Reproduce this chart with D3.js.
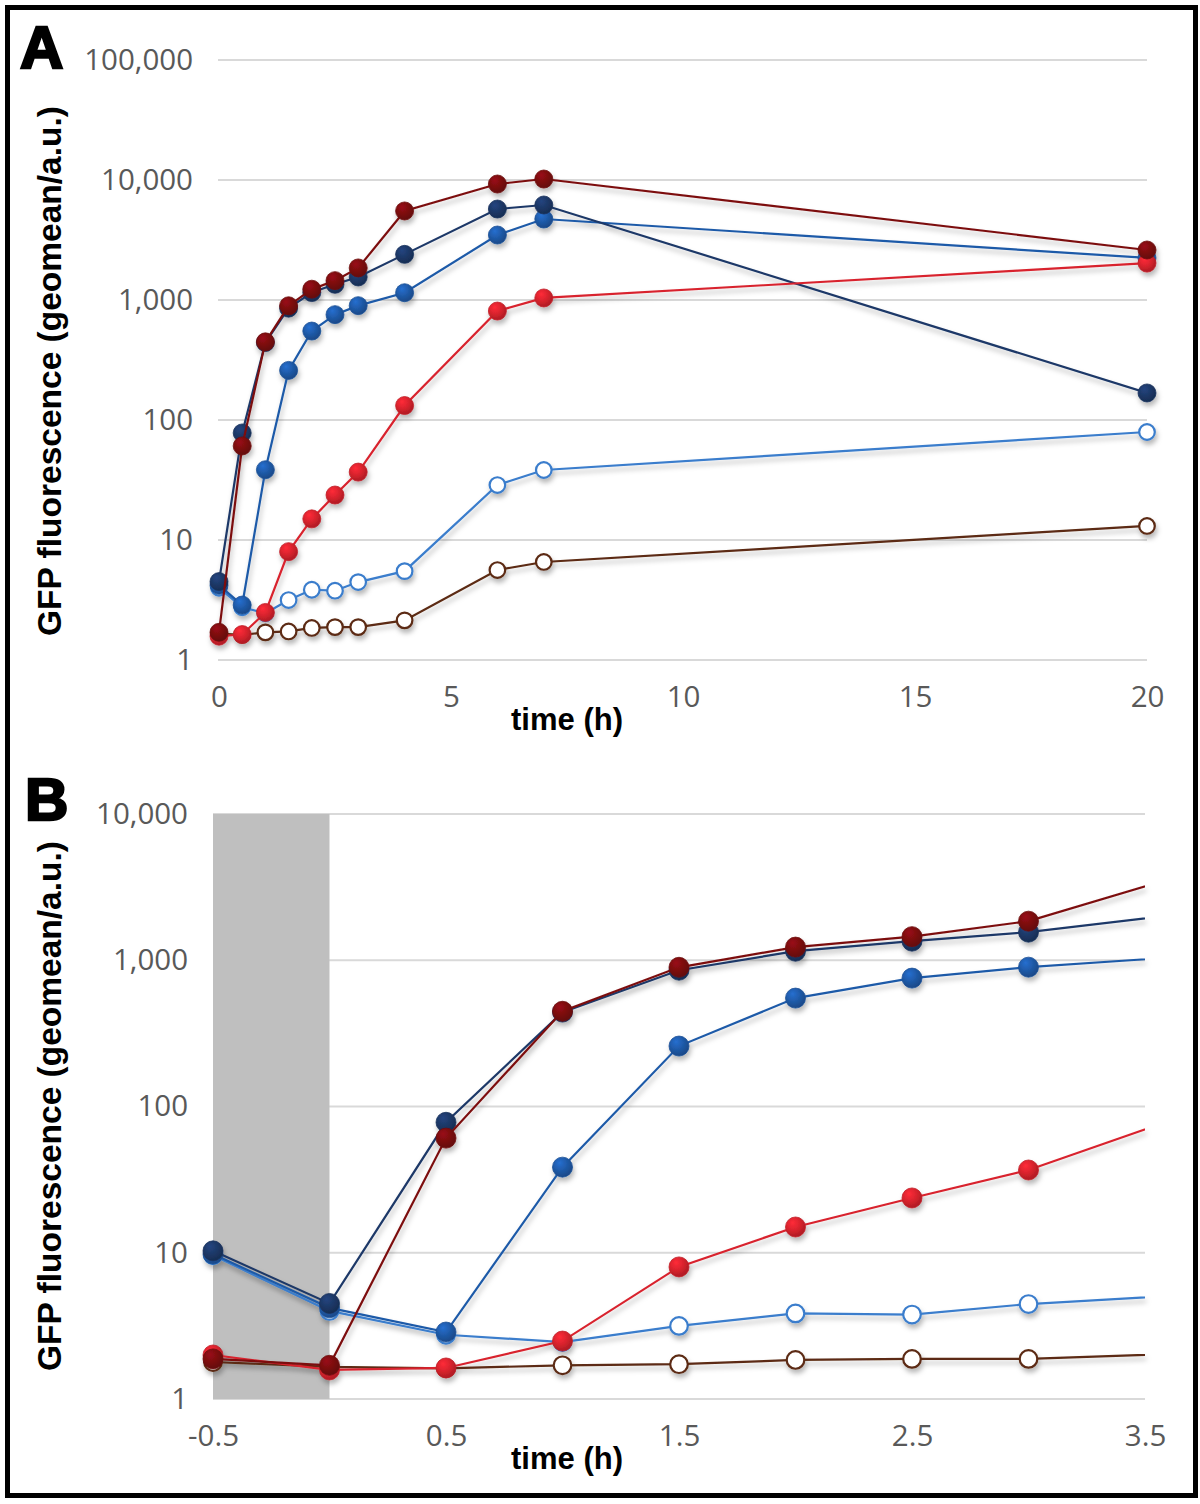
<!DOCTYPE html>
<html>
<head>
<meta charset="utf-8">
<script src="https://cdn.jsdelivr.net/npm/d3@7"></script>
<style>
  html, body { margin: 0; padding: 0; background: #fff; }
  svg { display: block; }
</style>
</head>
<body>
<svg id="chart" width="1200" height="1504"></svg>
<script>
// ---------------- DATA ----------------
const times      = [-0.5, 0, 0.5, 1, 1.5, 2, 2.5, 3, 4, 6, 7, 20];
const darkRed    = [1.88, 1.70, 60.8, 448, 895, 1230, 1450, 1850, 5520, 9260, 10190, 2610];
const navy       = [10.3, 4.5, 78, 442, 855, 1153, 1351, 1556, 2400, 5730, 6190, 168];
const medBlue    = [9.8, 4.2, 2.87, 38.5, 259, 551, 755, 897, 1150, 3480, 4730, 2240];
const red        = [2.0, 1.58, 1.63, 2.49, 8.0, 15.0, 23.7, 36.8, 132, 809, 1040, 2030];
const lightBlue  = [9.6, 4.0, 2.75, 2.45, 3.16, 3.85, 3.78, 4.46, 5.5, 28.7, 38.3, 79.4];
const brown      = [1.79, 1.66, 1.62, 1.70, 1.73, 1.85, 1.88, 1.88, 2.14, 5.62, 6.56, 13.1];

const yTicksA = [1, 10, 100, 1000, 10000, 100000];
const xTicksA = [0, 5, 10, 15, 20];
const yTicksB = [1, 10, 100, 1000, 10000];
const xTicksB = [-0.5, 0.5, 1.5, 2.5, 3.5];
const shadedRangeB = [-0.5, 0];

const seriesList = [
  { name: "lightBlue", values: lightBlue, color: "#3a7dcc", open: true },
  { name: "brown",     values: brown,     color: "#5b2a12", open: true },
  { name: "medBlue",   values: medBlue,   color: "#1f5aa8", open: false },
  { name: "navy",      values: navy,      color: "#1d3867", open: false },
  { name: "red",       values: red,       color: "#d8232d", open: false },
  { name: "darkRed",   values: darkRed,   color: "#7c0d10", open: false }
];

// ---------------- SETUP ----------------
const svg = d3.select("#chart");
svg.append("rect").attr("width", 1200).attr("height", 1504).attr("fill", "#fff");

const defs = svg.append("defs");
const shadow = defs.append("filter").attr("id", "shadow")
  .attr("x", "-20%").attr("y", "-20%").attr("width", "140%").attr("height", "140%");
shadow.append("feDropShadow").attr("dx", 1.5).attr("dy", 4).attr("stdDeviation", 2.5)
  .attr("flood-color", "#000").attr("flood-opacity", 0.28);

seriesList.forEach(s => {
  const g = defs.append("radialGradient").attr("id", "grad-" + s.name)
    .attr("cx", "40%").attr("cy", "35%").attr("r", "65%").attr("fx", "35%").attr("fy", "28%");
  const c = d3.color(s.color);
  g.append("stop").attr("offset", "0%").attr("stop-color", c.brighter(0.6));
  g.append("stop").attr("offset", "55%").attr("stop-color", s.color);
  g.append("stop").attr("offset", "100%").attr("stop-color", c.darker(0.6));
});

const data = seriesList.map(s => ({
  ...s,
  points: times.map((t, i) => ({ t, v: s.values[i] }))
}));

function drawPanel(cfg) {
  const x = d3.scaleLinear().domain(cfg.xDomain).range(cfg.xRange);
  const y = d3.scaleLog().domain(cfg.yDomain).range(cfg.yRange);
  const g = svg.append("g");

  // gridlines
  g.append("g").selectAll("line").data(cfg.yTicks).join("line")
    .attr("x1", cfg.gridX[0]).attr("x2", cfg.gridX[1])
    .attr("y1", d => y(d)).attr("y2", d => y(d))
    .attr("stroke", "#d9d9d9").attr("stroke-width", 2);

  // shaded region
  if (cfg.shade) {
    g.append("rect")
      .attr("x", x(cfg.shade[0])).attr("width", x(cfg.shade[1]) - x(cfg.shade[0]))
      .attr("y", y(cfg.yDomain[1])).attr("height", y(cfg.yDomain[0]) - y(cfg.yDomain[1]))
      .attr("fill", "#bfbfbf");
  }

  // axes
  const yAxis = d3.axisLeft(y).tickValues(cfg.yTicks).tickFormat(d3.format(","))
    .tickSize(0).tickPadding(cfg.yPad);
  const ya = g.append("g").attr("transform", `translate(${cfg.xRange[0]},0)`).call(yAxis);
  const xAxis = d3.axisBottom(x).tickValues(cfg.xTicks).tickFormat(cfg.xFormat)
    .tickSize(0).tickPadding(cfg.xPad);
  const xa = g.append("g").attr("transform", `translate(0,${cfg.yRange[0]})`).call(xAxis);
  [ya, xa].forEach(a => {
    a.select(".domain").remove();
    a.selectAll("text").attr("font-family", "'Open Sans', sans-serif")
      .attr("font-size", 29.5).attr("fill", "#595959");
  });

  const lineClipId = "lclip-" + cfg.id;
  defs.append("clipPath").attr("id", lineClipId).append("rect")
    .attr("x", cfg.xRange[0]).attr("y", cfg.yRange[1] - 15)
    .attr("width", cfg.xRange[1] - cfg.xRange[0])
    .attr("height", cfg.yRange[0] - cfg.yRange[1] + 30);

  const plot = g.append("g").attr("filter", "url(#shadow)");
  const line = d3.line().x(d => x(d.t)).y(d => y(d.v));

  data.forEach(s => {
    const pts = s.points.filter(p => p.t >= cfg.xDomain[0]);
    const sg = plot.append("g");
    sg.append("path").datum(pts)
      .attr("clip-path", `url(#${lineClipId})`)
      .attr("d", line).attr("fill", "none")
      .attr("stroke", s.color).attr("stroke-width", 2.2);
    sg.selectAll("circle").data(pts.filter(p => p.t <= cfg.xDomain[1])).join("circle")
      .attr("cx", d => x(d.t)).attr("cy", d => y(d.v))
      .attr("r", s.open ? cfg.r - 1.2 : cfg.r)
      .attr("fill", s.open ? "#fff" : `url(#grad-${s.name})`)
      .attr("stroke", s.open ? s.color : d3.color(s.color).darker(0.3))
      .attr("stroke-width", s.open ? 2.2 : 0.8);
  });

  // titles
  g.append("text").attr("x", cfg.xTitle[0]).attr("y", cfg.xTitle[1])
    .attr("text-anchor", "middle").attr("font-family", "'Liberation Sans', Arial, sans-serif")
    .attr("font-weight", "bold").attr("font-size", 31).attr("fill", "#000")
    .text("time (h)");
  g.append("text")
    .attr("transform", `translate(${cfg.yTitle[0]},${cfg.yTitle[1]}) rotate(-90)`)
    .attr("text-anchor", "middle").attr("font-family", "'Liberation Sans', Arial, sans-serif")
    .attr("font-weight", "bold").attr("font-size", 33.5).attr("fill", "#000")
    .text("GFP fluorescence (geomean/a.u.)");
  g.append("text").attr("x", cfg.letter[0]).attr("y", cfg.letter[1])
    .attr("font-family", "'Liberation Sans', Arial, sans-serif")
    .attr("font-weight", "900").attr("font-size", 60).attr("fill", "#000")
    .attr("stroke", "#000").attr("stroke-width", 2.5)
    .text(cfg.label);
}

drawPanel({
  id: "A", label: "A", letter: [20, 68],
  xDomain: [0, 20], xRange: [219, 1147], gridX: [218, 1147],
  yDomain: [1, 100000], yRange: [660, 60],
  yTicks: yTicksA, xTicks: xTicksA, xFormat: d3.format("d"),
  yPad: 26, xPad: 26, r: 9,
  xTitle: [567, 730], yTitle: [61, 371]
});

drawPanel({
  id: "B", label: "B", letter: [25, 820],
  xDomain: [-0.5, 3.5], xRange: [213, 1145], gridX: [213, 1145],
  yDomain: [1, 10000], yRange: [1399, 814],
  yTicks: yTicksB, xTicks: xTicksB, xFormat: d => d.toFixed(1),
  yPad: 25, xPad: 26, r: 10,
  xTitle: [567, 1469], yTitle: [61, 1106],
  shade: shadedRangeB
});

// outer frame
svg.append("rect").attr("x", 7.5).attr("y", 7.5).attr("width", 1188).attr("height", 1488)
  .attr("fill", "none").attr("stroke", "#000").attr("stroke-width", 5);
</script>
</body>
</html>
